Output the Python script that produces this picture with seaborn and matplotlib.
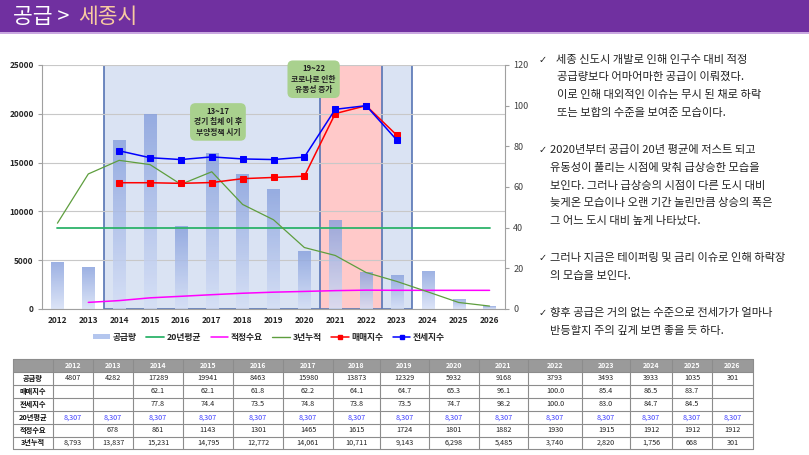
import numpy as np
import pandas as pd
import matplotlib.pyplot as plt
import seaborn as sns
from matplotlib.colors import LinearSegmentedColormap
from matplotlib.patches import Rectangle, Patch
from matplotlib.lines import Line2D

sns.set_style('white')
plt.rcParams['font.family'] = ['Noto Sans CJK KR', 'DejaVu Sans']

# 데이터
years = ['2012', '2013', '2014', '2015', '2016', '2017', '2018', '2019',
         '2020', '2021', '2022', '2023', '2024', '2025', '2026']
supply = [4807, 4282, 17289, 19941, 8463, 15980, 13873, 12329,
          5932, 9168, 3793, 3493, 3933, 1035, 301]
sale_idx = [None, None, 62.1, 62.1, 61.8, 62.2, 64.1, 64.7,
            65.3, 96.1, 100.0, 85.4, 86.5, 83.7, None]
jeonse_idx = [None, None, 77.8, 74.4, 73.5, 74.8, 73.8, 73.5,
              74.7, 98.2, 100.0, 83.0, 84.7, 84.5, None]
avg20 = [8307] * 15
demand = [None, 678, 861, 1143, 1301, 1465, 1615, 1724,
          1801, 1882, 1930, 1915, 1912, 1912, 1912]
cum3 = [8793, 13837, 15231, 14795, 12772, 14061, 10711, 9143,
        6298, 5485, 3740, 2820, 1756, 668, 301]
# 차트의 지수선은 2014~2023 구간만 표시
idx_years = years[2:12]

pos = np.arange(len(years))
idx_pos = [years.index(y) for y in idx_years]

fig = plt.figure(figsize=(8.09, 4.55), dpi=100)
W, H = 809, 455

ax = fig.add_axes([42 / W, 1 - 309 / H, 463 / W, 244 / H])

# 공급량 막대 (그라데이션)
sns.barplot(x=years, y=supply, ax=ax, width=0.4, color='#8EA8E0', zorder=1)
bars = list(ax.patches)
cmap = LinearSegmentedColormap.from_list('bar', ['#D5DFF6', '#87A0DD'])
grad = np.linspace(1, 0, 256).reshape(-1, 1)
for p in bars:
    x0, y0 = p.get_x(), p.get_y()
    x1, y1 = x0 + p.get_width(), y0 + p.get_height()
    im = ax.imshow(grad, extent=[x0, x1, y0, y1], aspect='auto', cmap=cmap,
                   origin='upper', alpha=0.82, zorder=1.2)
    im.set_clip_path(p)
    p.set_facecolor('none')
    p.set_edgecolor('none')

# 구간 음영
ax.axvspan(1.5, 11.5, facecolor='#DAE3F3', edgecolor='#5674B4', lw=1.2, zorder=0.2)
ax.axvspan(8.5, 10.5, facecolor='#FFC9C9', edgecolor='#5674B4', lw=1.2, zorder=0.3)

df = pd.DataFrame({'pos': pos, 'avg20': avg20, 'demand': demand, 'cum3': cum3})
sns.lineplot(data=df, x='pos', y='avg20', ax=ax, color='#2DB36A', lw=1.3, zorder=2)
sns.lineplot(data=df.dropna(), x='pos', y='demand', ax=ax, color='#FF00FF', lw=1.1, zorder=2)
sns.lineplot(data=df, x='pos', y='cum3', ax=ax, color='#5E9E3E', lw=0.9, zorder=2)

ax.set_xlim(-0.5, 14.5)
ax.set_ylim(0, 25000)
ax.set_yticks(range(0, 25001, 5000))
ax.set_xticks(pos)
ax.set_xticklabels(years)
ax.set_xticks(np.arange(-0.5, 15, 1), minor=True)
ax.set_xlabel('')
ax.set_ylabel('')
ax.set_axisbelow(True)
ax.yaxis.grid(True, color='#C8C8C8', lw=0.8)
ax.tick_params(axis='x', which='major', length=0, labelsize=6, pad=5)
ax.tick_params(axis='x', which='minor', length=4, color='#A0A0A0', width=0.8)
ax.tick_params(axis='y', length=3, color='#A0A0A0', labelsize=6, pad=3)
for t in ax.get_xticklabels() + ax.get_yticklabels():
    t.set_fontweight('bold')
for s in ['top', 'right']:
    ax.spines[s].set_visible(False)
for s in ['left', 'bottom']:
    ax.spines[s].set_color('#A0A0A0')
    ax.spines[s].set_linewidth(0.8)

# 지수 (보조축)
ax2 = ax.twinx()
idf = pd.DataFrame({'pos': idx_pos, 'sale': sale_idx[2:12], 'jeonse': jeonse_idx[2:12]})
sns.lineplot(data=idf, x='pos', y='sale', ax=ax2, color='#FF0000', marker='s',
             markersize=4, markeredgecolor='#FF0000', lw=1.1)
sns.lineplot(data=idf, x='pos', y='jeonse', ax=ax2, color='#0000FF', marker='s',
             markersize=4, markeredgecolor='#0000FF', lw=1.1)
ax2.set_ylim(0, 120)
ax2.set_yticks(range(0, 121, 20))
ax2.set_xlim(-0.5, 14.5)
ax2.set_ylabel('')
ax2.tick_params(axis='y', length=3, color='#A0A0A0', labelsize=6.5, labelcolor='#404040', pad=3)
for s in ['top', 'left', 'bottom']:
    ax2.spines[s].set_visible(False)
ax2.spines['right'].set_color('#A0A0A0')
ax2.spines['right'].set_linewidth(0.8)

# 말풍선
box = dict(boxstyle='round,pad=0.5,rounding_size=0.7', fc='#A9D18E', ec='none')
ax2.text(5.2, 92, '13~17\n경기 침체 이 후\n부양정책 시기', ha='center', va='center',
         fontsize=5.6, fontweight='bold', color='#222222', bbox=box, linespacing=1.2, zorder=6)
ax2.text(8.3, 113, '19~22\n코로나로 인한\n유동성 증가', ha='center', va='center',
         fontsize=5.6, fontweight='bold', color='#222222', bbox=box, linespacing=1.2, zorder=6)

# 범례
handles = [
    Patch(facecolor='#B4C6EE', edgecolor='none'),
    Line2D([], [], color='#2DB36A', lw=1.3),
    Line2D([], [], color='#FF00FF', lw=1.1),
    Line2D([], [], color='#5E9E3E', lw=1.0),
    Line2D([], [], color='#FF0000', lw=1.1, marker='s', markersize=3.5),
    Line2D([], [], color='#0000FF', lw=1.1, marker='s', markersize=3.5),
]
labels = ['공급량', '20년평균', '적정수요', '3년누적', '매매지수', '전세지수']
leg = ax.legend(handles, labels, loc='center', bbox_to_anchor=(0.49, -0.115), ncol=6,
                frameon=False, fontsize=6.3, handlelength=2.0, handleheight=0.5,
                columnspacing=1.1, handletextpad=0.3)
for t in leg.get_texts():
    t.set_fontweight('bold')

# 상단 헤더, 설명, 표 (픽셀 좌표 오버레이)
ov = fig.add_axes([0, 0, 1, 1], zorder=5)
ov.set_xlim(0, W)
ov.set_ylim(H, 0)
ov.axis('off')
ov.patch.set_visible(False)
ov.add_patch(Rectangle((0, 0), W, 32, facecolor='#7030A0', edgecolor='none'))
ov.add_patch(Rectangle((0, 32), W, 1.5, facecolor='#C9A8E0', edgecolor='none'))
ov.text(13, 17, '공급 >', color='white', fontsize=15.5, va='center', ha='left')
ov.text(78, 17, '세종시', color='#F8CBA0', fontsize=15.5, va='center', ha='left')

notes = [
    (60, '✓', '세종 신도시 개발로 인해 인구수 대비 적정'),
    (77, '', '공급량보다 어마어마한 공급이 이뤄졌다.'),
    (95, '', '이로 인해 대외적인 이슈는 무시 된 채로 하락'),
    (113, '', '또는 보합의 수준을 보여준 모습이다.'),
    (150, '✓', '2020년부터 공급이 20년 평균에 저스트 되고'),
    (168, '', '유동성이 풀리는 시점에 맞춰 급상승한 모습을'),
    (186, '', '보인다. 그러나 급상승의 시점이 다른 도시 대비'),
    (203, '', '늦게온 모습이나 오랜 기간 눌린만큼 상승의 폭은'),
    (221, '', '그 어느 도시 대비 높게 나타났다.'),
    (258, '✓', '그러나 지금은 테이퍼링 및 금리 이슈로 인해 하락장'),
    (276, '', '의 모습을 보인다.'),
    (313, '✓', '향후 공급은 거의 없는 수준으로 전세가가 얼마나'),
    (331, '', '반등할지 주의 깊게 보면 좋을 듯 하다.'),
]
para_x = {60: 556, 77: 557, 95: 557, 113: 557}
for y, mark, txt in notes:
    if mark:
        ov.text(539, y, mark, fontsize=7, va='center', ha='left', color='#222222',
                family=['DejaVu Sans'])
    ov.text(para_x.get(y, 550), y, txt, fontsize=8.1, va='center', ha='left', color='#222222')

# 표
row_labels = ['공급량', '매매지수', '전세지수', '20년평균', '적정수요', '3년누적']
fmt_rows = [
    [str(v) for v in supply],
    ['' if v is None else f'{v:.1f}' for v in sale_idx],
    ['' if v is None else f'{v:.1f}' for v in jeonse_idx],
    [f'{v:,}' for v in avg20],
    ['' if v is None else str(v) for v in demand],
    [f'{v:,}' for v in cum3],
]
col_x = [12.7, 53, 93, 133, 183, 233, 283, 333, 380, 429, 479, 528, 582, 630, 672, 712, 753]
row_y = [359.3, 371.7, 385, 397.7, 411, 424, 436.7, 449.3]

ov.add_patch(Rectangle((col_x[0], row_y[0]), col_x[-1] - col_x[0], row_y[1] - row_y[0],
                       facecolor='#9A9A9A', edgecolor='none'))
for i in range(len(col_x) - 1):
    cx = (col_x[i] + col_x[i + 1]) / 2
    if i > 0:
        ov.text(cx, (row_y[0] + row_y[1]) / 2, years[i - 1], ha='center', va='center',
                fontsize=5, fontweight='bold', color='white')
for r in range(len(row_labels)):
    cy = (row_y[r + 1] + row_y[r + 2]) / 2
    ov.text((col_x[0] + col_x[1]) / 2, cy, row_labels[r], ha='center', va='center',
            fontsize=5.2, fontweight='bold', color='#111111')
    for i, val in enumerate(fmt_rows[r]):
        cx = (col_x[i + 1] + col_x[i + 2]) / 2
        ov.text(cx, cy, val, ha='center', va='center', fontsize=5.2,
                color='#3B3BFF' if r == 3 else '#222222')
for y in row_y:
    ov.plot([col_x[0], col_x[-1]], [y, y], color='#8C8C8C', lw=0.8)
for x in col_x:
    ov.plot([x, x], [row_y[0], row_y[-1]], color='#8C8C8C', lw=0.8)

fig.savefig('out.png', dpi=100)
